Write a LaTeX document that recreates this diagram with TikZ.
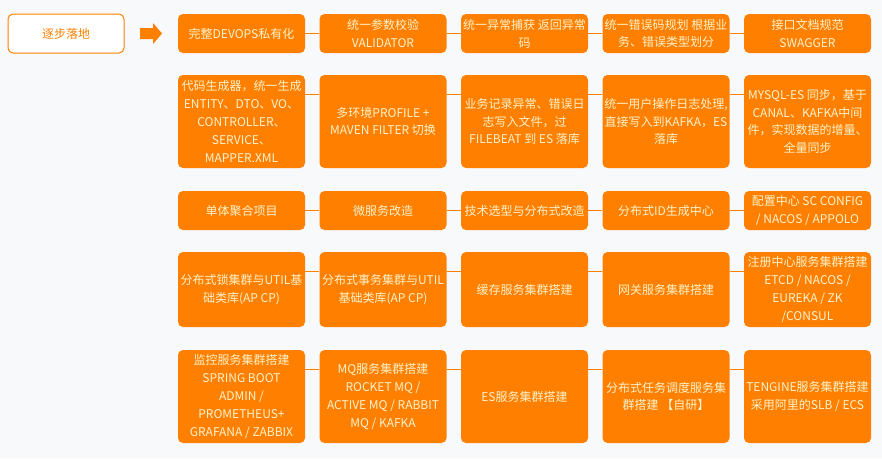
\documentclass[tikz,border=0pt]{standalone}
\usepackage{fontspec}
\setmainfont{Noto Sans CJK SC}
\usetikzlibrary{arrows}
\usetikzlibrary{shapes}

\definecolor{boxorange}{HTML}{FF8000}
\definecolor{boxtext}{HTML}{FFF2CC}
\definecolor{pagebg}{HTML}{F8F9FB}

\begin{document}
\begin{tikzpicture}[x = 1pt, y = -1pt, font=\fontsize{12}{17.8}\selectfont]
	\tikzstyle{stageStyle}=[shape = rectangle, rounded corners = 5pt, draw = boxorange, line width = 1pt, fill = white, text = boxorange, minimum width = 116pt, minimum height = 39pt, inner sep = 0pt]
	\tikzstyle{itemStyle}=[shape = rectangle, rounded corners = 5pt, fill = boxorange, text = boxtext, minimum width = 127pt, align = center, inner sep = 0pt]
	\tikzstyle{shortStyle}=[itemStyle, minimum height = 39pt]
	\tikzstyle{midStyle}=[itemStyle, minimum height = 75pt]
	\tikzstyle{tallStyle}=[itemStyle, minimum height = 93pt]
	\tikzstyle{linkStyle}=[draw = boxorange, line width = 1pt]
	\fill[pagebg] (0,0) rectangle (882,458);
	\useasboundingbox (0,0) rectangle (882,458);
	\node[stageStyle] (stage) at (66, 33.5) {逐步落地};
	\fill[boxorange] (140,28) -- (153,28) -- (153,23) -- (162,33.5) -- (153,44) -- (153,39) -- (140,39) -- cycle;
	% row 1
	\node[shortStyle] (a1) at (241.5, 33.5) {完整DEVOPS私有化};
	\node[shortStyle] (a2) at (383, 33.5) {统一参数校验\\VALIDATOR};
	\node[shortStyle] (a3) at (524.5, 33.5) {统一异常捕获 返回异常\\码};
	\node[shortStyle] (a4) at (666, 33.5) {统一错误码规划 根据业\\务、错误类型划分};
	\node[shortStyle] (a5) at (807.5, 33.5) {接口文档规范\\SWAGGER};
	% row 2
	\node[tallStyle] (b1) at (241.5, 121.5) {代码生成器，统一生成\\ENTITY、DTO、VO、\\CONTROLLER、\\SERVICE、\\MAPPER.XML};
	\node[tallStyle] (b2) at (383, 121.5) {多环境PROFILE +\\MAVEN FILTER 切换};
	\node[tallStyle] (b3) at (524.5, 121.5) {业务记录异常、错误日\\志写入文件，过\\FILEBEAT 到 ES 落库};
	\node[tallStyle] (b4) at (666, 121.5) {统一用户操作日志处理,\\直接写入到KAFKA，ES\\落库};
	\node[tallStyle] (b5) at (807.5, 121.5) {MYSQL-ES 同步，基于\\CANAL、KAFKA中间\\件，实现数据的增量、\\全量同步};
	% row 3
	\node[shortStyle] (c1) at (241.5, 210.5) {单体聚合项目};
	\node[shortStyle] (c2) at (383, 210.5) {微服务改造};
	\node[shortStyle] (c3) at (524.5, 210.5) {技术选型与分布式改造};
	\node[shortStyle] (c4) at (666, 210.5) {分布式ID生成中心};
	\node[shortStyle] (c5) at (807.5, 210.5) {配置中心 SC CONFIG\\/ NACOS / APPOLO};
	% row 4
	\node[midStyle] (d1) at (241.5, 289.5) {分布式锁集群与UTIL基\\础类库(AP CP)};
	\node[midStyle] (d2) at (383, 289.5) {分布式事务集群与UTIL\\基础类库(AP CP)};
	\node[midStyle] (d3) at (524.5, 289.5) {缓存服务集群搭建};
	\node[midStyle] (d4) at (666, 289.5) {网关服务集群搭建};
	\node[midStyle] (d5) at (807.5, 289.5) {注册中心服务集群搭建\\ETCD / NACOS /\\EUREKA / ZK\\/CONSUL};
	% row 5
	\node[tallStyle] (e1) at (241.5, 396.5) {监控服务集群搭建\\SPRING BOOT\\ADMIN /\\PROMETHEUS+\\GRAFANA / ZABBIX};
	\node[tallStyle] (e2) at (383, 396.5) {MQ服务集群搭建\\ROCKET MQ /\\ACTIVE MQ / RABBIT\\MQ / KAFKA};
	\node[tallStyle] (e3) at (524.5, 396.5) {ES服务集群搭建};
	\node[tallStyle] (e4) at (666, 396.5) {分布式任务调度服务集\\群搭建 【自研】};
	\node[tallStyle] (e5) at (807.5, 396.5) {TENGINE服务集群搭建\\采用阿里的SLB / ECS};
	% links, level with the first text line
	\foreach \r in {a,b,c,d,e}
		\foreach \i/\j in {1/2,2/3,3/4,4/5}
			\draw[linkStyle] ([yshift=-19.5pt]\r\i.north east) -- ([yshift=-19.5pt]\r\j.north west);
\end{tikzpicture}
\end{document}
